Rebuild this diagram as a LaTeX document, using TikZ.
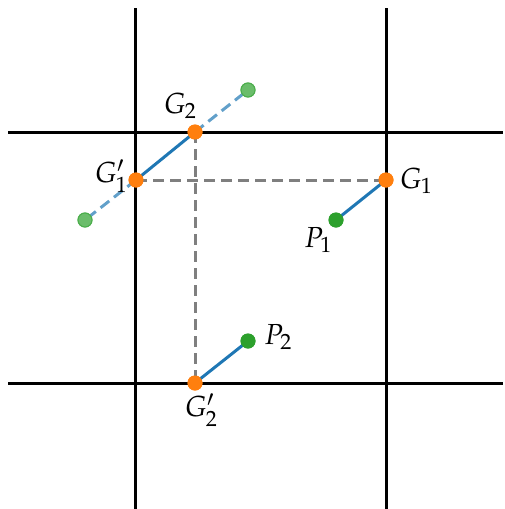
\documentclass[tikz,border=0pt]{standalone}
\usepackage{mathpazo}
\usepackage{tikz}
\usetikzlibrary{positioning}
\definecolor{tabblue}{HTML}{1F77B4}
\definecolor{taborange}{HTML}{FF7F0E}
\definecolor{tabgreen}{HTML}{2CA02C}
\definecolor{tabgray}{HTML}{7F7F7F}

\begin{document}
\begin{tikzpicture}[
    x=1pt, y=-1pt,
    grid/.style={line width=3pt, black},
    dot/.style={circle, inner sep=0pt, minimum size=15pt},
    ghost/.style={dot, fill=tabgreen!70!white, draw=tabgreen!85!white, line width=1pt, minimum size=14pt},
    gpt/.style={dot, fill=tabgreen},
    opt/.style={dot, fill=taborange},
    seg/.style={line width=3pt, tabblue},
    segghost/.style={line width=3pt, tabblue!70!white, dash pattern=on 11pt off 6pt},
    aux/.style={line width=3pt, tabgray, dash pattern=on 11pt off 6pt},
    lab/.style={font=\fontsize{29}{34}\selectfont, inner sep=1pt}
]
\useasboundingbox (0,0) rectangle (505,509);
% grid
\draw[grid] (135,8) -- (135,509);
\draw[grid] (386,8) -- (386,509);
\draw[grid] (8,132) -- (503,132);
\draw[grid] (8,383) -- (503,383);

% points
\node[opt] (G2) at (195,132) {};
\node[opt] (G1p) at (136,180) {};
\node[opt] (G1) at (386,180) {};
\node[gpt] (P1) at (336,220) {};
\node[gpt] (P2) at (248,341) {};
\node[opt] (G2p) at (195,383) {};
\node[ghost] (Ga) at (248,90) {};
\node[ghost] (Gb) at (85,220) {};

% connectors
\draw[aux] (G1p.center) -- (G1.center);
\draw[aux] (G2.center) -- (G2p.center);
\draw[segghost] (G2.center) -- (Ga.center);
\draw[segghost] (G1p.center) -- (Gb.center);
\draw[seg] (G1p.center) -- (G2.center);
\draw[seg] (G1.center) -- (P1.center);
\draw[seg] (G2p.center) -- (P2.center);

% redraw dots on top
\foreach \p in {G2, G1p, G1, G2p} \node[opt] at (\p) {};
\foreach \p in {P1, P2} \node[gpt] at (\p) {};
\foreach \p in {Ga, Gb} \node[ghost] at (\p) {};

% labels
\node[lab] at (180,106) {$G_2$};
\node[lab] at (111,176) {$G_1'$};
\node[lab] at (416,181) {$G_1$};
\node[lab] at (318,240) {$P_1$};
\node[lab] at (278,337) {$P_2$};
\node[lab] at (201,410) {$G_2'$};
\end{tikzpicture}
\end{document}
